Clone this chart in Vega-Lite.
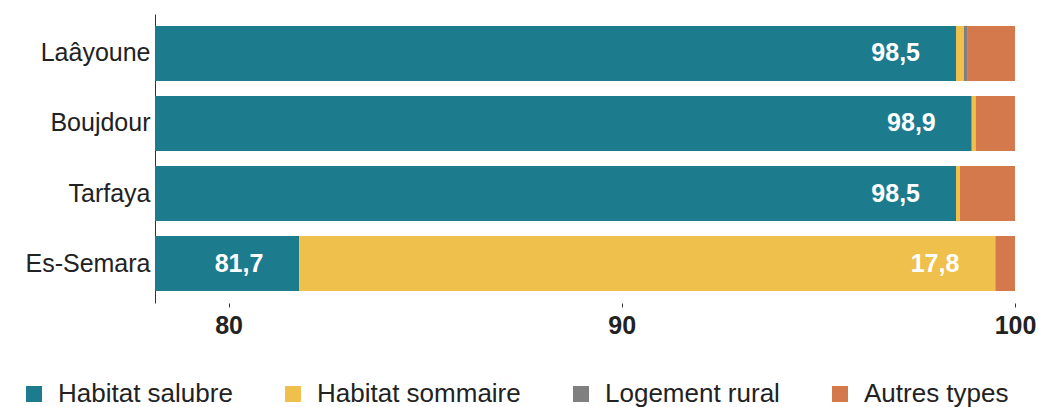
{
  "$schema": "https://vega.github.io/schema/vega-lite/v6.json",
  "autosize": "none",
  "width": 860,
  "height": 289,
  "padding": {"left": 155, "top": 14, "right": 23, "bottom": 104},
  "background": "white",
  "config": {"view": {"stroke": null}, "font": "Liberation Sans"},
  "data": {
    "values": [
      {"province": "Laâyoune", "type": "Habitat salubre", "order": 1, "value": 98.5, "label": "98,5"},
      {"province": "Laâyoune", "type": "Habitat sommaire", "order": 2, "value": 0.2, "label": ""},
      {"province": "Laâyoune", "type": "Logement rural", "order": 3, "value": 0.1, "label": ""},
      {"province": "Laâyoune", "type": "Autres types", "order": 4, "value": 1.2, "label": ""},
      {"province": "Boujdour", "type": "Habitat salubre", "order": 1, "value": 98.9, "label": "98,9"},
      {"province": "Boujdour", "type": "Habitat sommaire", "order": 2, "value": 0.1, "label": ""},
      {"province": "Boujdour", "type": "Logement rural", "order": 3, "value": 0.0, "label": ""},
      {"province": "Boujdour", "type": "Autres types", "order": 4, "value": 1.0, "label": ""},
      {"province": "Tarfaya", "type": "Habitat salubre", "order": 1, "value": 98.5, "label": "98,5"},
      {"province": "Tarfaya", "type": "Habitat sommaire", "order": 2, "value": 0.1, "label": ""},
      {"province": "Tarfaya", "type": "Logement rural", "order": 3, "value": 0.0, "label": ""},
      {"province": "Tarfaya", "type": "Autres types", "order": 4, "value": 1.4, "label": ""},
      {"province": "Es-Semara", "type": "Habitat salubre", "order": 1, "value": 81.8, "label": "81,7"},
      {"province": "Es-Semara", "type": "Habitat sommaire", "order": 2, "value": 17.7, "label": "17,8"},
      {"province": "Es-Semara", "type": "Logement rural", "order": 3, "value": 0.0, "label": ""},
      {"province": "Es-Semara", "type": "Autres types", "order": 4, "value": 0.5, "label": ""}
    ]
  },
  "transform": [
    {"stack": "value", "groupby": ["province"], "sort": [{"field": "order", "order": "ascending"}], "as": ["v0", "v1"]}
  ],
  "encoding": {
    "y": {
      "field": "province",
      "type": "nominal",
      "sort": ["Laâyoune", "Boujdour", "Tarfaya", "Es-Semara"],
      "scale": {"paddingInner": 0.214, "paddingOuter": 0.17},
      "axis": {
        "title": null,
        "ticks": false,
        "domain": true,
        "domainColor": "#333333",
        "domainWidth": 1,
        "labelFontSize": 25,
        "labelColor": "#222222",
        "labelPadding": 5,
        "labelFont": "Liberation Sans"
      }
    }
  },
  "layer": [
    {
      "mark": {"type": "bar", "clip": true},
      "encoding": {
        "x": {
          "field": "v0",
          "type": "quantitative",
          "scale": {"domain": [78.13, 100], "nice": false, "zero": false},
          "axis": {
            "title": null,
            "values": [80, 90, 100],
            "domain": false,
            "grid": false,
            "ticks": true,
            "tickSize": 4,
            "tickColor": "#333333",
            "labelFontSize": 25,
            "labelFontWeight": "bold",
            "labelColor": "#222222",
            "labelPadding": 6,
            "labelFlush": false
          }
        },
        "x2": {"field": "v1"},
        "color": {
          "field": "type",
          "type": "nominal",
          "scale": {
            "domain": ["Habitat salubre", "Habitat sommaire", "Logement rural", "Autres types"],
            "range": ["#1d7b8e", "#f0c04c", "#808080", "#d4794b"]
          },
          "legend": {
            "title": null,
            "orient": "none",
            "legendX": -134,
            "legendY": 367,
            "direction": "horizontal",
            "columns": 4,
            "symbolType": "square",
            "symbolSize": 256,
            "symbolStrokeWidth": 0,
            "labelFontSize": 26,
            "labelColor": "#222222",
            "labelOffset": 11,
            "columnPadding": 47,
            "labelLimit": 400
          }
        }
      }
    },
    {
      "transform": [{"filter": "datum.label != ''"}],
      "mark": {"type": "text", "align": "right", "baseline": "middle", "dx": -36, "color": "white", "fontWeight": "bold", "fontSize": 25},
      "encoding": {
        "x": {"field": "v1", "type": "quantitative"},
        "text": {"field": "label"}
      }
    }
  ]
}
